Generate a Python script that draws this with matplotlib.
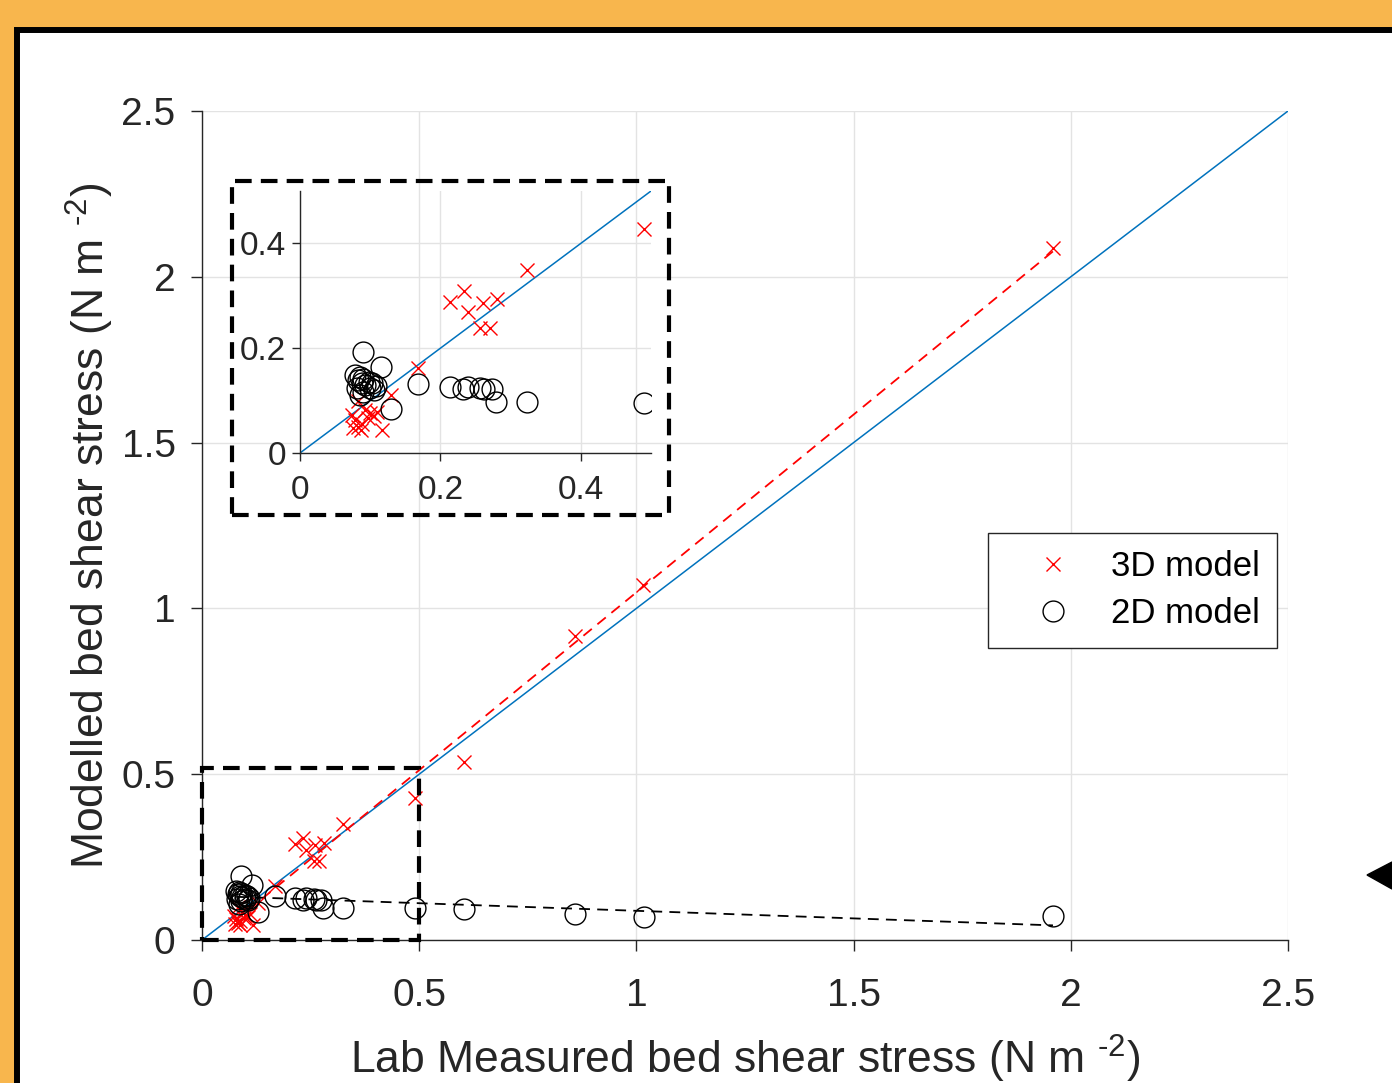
import numpy as np
import matplotlib.pyplot as plt
from matplotlib.patches import Rectangle, Polygon

plt.rcParams['font.family'] = ['Liberation Sans', 'DejaVu Sans']
plt.rcParams['mathtext.fontset'] = 'custom'
plt.rcParams['mathtext.rm'] = 'Liberation Sans'
plt.rcParams['mathtext.default'] = 'regular'

# datos (N m^-2)
lab_3d = [1.959, 1.015, 0.859, 0.603, 0.490, 0.324, 0.280, 0.270, 0.257, 0.260,
          0.239, 0.233, 0.214, 0.168, 0.130, 0.117, 0.083, 0.093, 0.100, 0.097,
          0.088, 0.079, 0.076, 0.083, 0.087, 0.074, 0.105, 0.110]
model_3d = [2.087, 1.071, 0.917, 0.537, 0.427, 0.349, 0.294, 0.238, 0.238, 0.286,
            0.270, 0.309, 0.289, 0.163, 0.111, 0.044, 0.100, 0.083, 0.076, 0.066,
            0.056, 0.063, 0.047, 0.050, 0.044, 0.072, 0.070, 0.078]

lab_2d = [1.959, 1.018, 0.859, 0.603, 0.490, 0.324, 0.279, 0.274, 0.262, 0.257,
          0.239, 0.232, 0.214, 0.168, 0.129, 0.115, 0.090, 0.079, 0.083, 0.088,
          0.093, 0.098, 0.103, 0.105, 0.081, 0.090, 0.100, 0.086, 0.090, 0.108,
          0.085]
model_2d = [0.072, 0.069, 0.078, 0.093, 0.095, 0.097, 0.098, 0.122, 0.122, 0.124,
            0.126, 0.122, 0.126, 0.132, 0.084, 0.165, 0.192, 0.149, 0.139, 0.133,
            0.130, 0.136, 0.133, 0.120, 0.124, 0.117, 0.124, 0.145, 0.142, 0.128,
            0.110]

ticks_main = [0, 0.5, 1, 1.5, 2, 2.5]
labels_main = ['0', '0.5', '1', '1.5', '2', '2.5']
ticks_inset = [0, 0.2, 0.4]
labels_inset = ['0', '0.2', '0.4']

# ajustes lineales
p3 = np.polyfit(lab_3d, model_3d, 1)
p2 = np.polyfit(lab_2d, model_2d, 1)
x3 = np.array([min(lab_3d), max(lab_3d)])
x2 = np.array([min(lab_2d), max(lab_2d)])

gris = '#262626'
grid_c = '#e3e3e3'
guion = (0, (4, 2.2))

fig = plt.figure(figsize=(13.92, 10.83), dpi=100, facecolor='#F8B64D')

# marco blanco con borde negro y flecha
fig.patches.append(Rectangle((17 / 1392, -0.05), 1.1, 1 - 30 / 1083 + 0.05,
                             transform=fig.transFigure, facecolor='white',
                             edgecolor='black', lw=4.3, zorder=-2))
fig.patches.append(Polygon([(1367 / 1392, 1 - 875 / 1083), (1.0, 1 - 862 / 1083),
                            (1.0, 1 - 889 / 1083)], closed=True,
                           transform=fig.transFigure, color='black', zorder=-1))


def estilo(ax, ticks, labels, size, pad_x, pad_y, largo):
    for s in ['top', 'right']:
        ax.spines[s].set_visible(False)
    for s in ['left', 'bottom']:
        ax.spines[s].set_color(gris)
        ax.spines[s].set_linewidth(1.0)
    ax.set_xticks(ticks)
    ax.set_xticklabels(labels)
    ax.set_yticks(ticks)
    ax.set_yticklabels(labels)
    ax.tick_params(axis='both', colors=gris, labelsize=size, length=largo, width=1.0)
    ax.tick_params(axis='x', pad=pad_x)
    ax.tick_params(axis='y', pad=pad_y)
    ax.grid(True, color=grid_c, lw=1.0)
    ax.set_axisbelow(True)


# grafico principal
ax = fig.add_axes([202 / 1392, 1 - 940 / 1083, 1086 / 1392, 829 / 1083])
ax.set_facecolor('none')
ax.plot([0, 2.5], [0, 2.5], color='#0072BD', lw=1.1, zorder=2)
ax.plot(x3, np.polyval(p3, x3), '--', color='red', lw=1.3, dashes=(6, 4), zorder=3)
ax.plot(x2, np.polyval(p2, x2), '--', color='black', lw=1.3, dashes=(6, 4), zorder=3)
ax.plot(lab_3d, model_3d, 'x', color='red', ms=10, mew=1.0, label='3D model', zorder=4)
ax.plot(lab_2d, model_2d, 'o', mfc='none', mec='black', ms=15, mew=1.0,
        label='2D model', zorder=4)
ax.set_xlim(0, 2.5)
ax.set_ylim(0, 2.5)
estilo(ax, ticks_main, labels_main, 28, 19, 11, 8)
ax.set_xlabel(r'Lab Measured bed shear stress (N m $^{\text{-}2}$)', fontsize=32,
              color=gris, labelpad=14)
ax.set_ylabel(r'Modelled bed shear stress (N m $^{\text{-}2}$)', fontsize=32,
              color=gris, labelpad=4)
ax.add_patch(Rectangle((0, 0), 0.5, 0.52, fill=False, edgecolor='black', lw=3,
                       linestyle=guion, clip_on=False, zorder=5))

leg = ax.legend(loc='upper right', bbox_to_anchor=(1277 / 1392, 1 - 533 / 1083),
                bbox_transform=fig.transFigure, fontsize=25, fancybox=False,
                edgecolor=gris, framealpha=1, handlelength=2.75, handletextpad=0.3,
                borderpad=0.5, labelspacing=0.4, borderaxespad=0)
leg.get_frame().set_linewidth(1.0)

# recuadro (zoom)
axi = fig.add_axes([300 / 1392, 1 - 453 / 1083, 351 / 1392, 262 / 1083])
axi.set_facecolor('none')
axi.plot([0, 0.5], [0, 0.5], color='#0072BD', lw=1.1, zorder=2)
axi.plot(lab_3d, model_3d, 'x', color='red', ms=10, mew=1.0, zorder=4)
axi.plot(lab_2d, model_2d, 'o', mfc='none', mec='black', ms=15, mew=1.0, zorder=4)
axi.set_xlim(0, 0.5)
axi.set_ylim(0, 0.5)
estilo(axi, ticks_inset, labels_inset, 24, 10, 4, 6)

fig.patches.append(Rectangle((232 / 1392, 1 - 515 / 1083), 437 / 1392, 334 / 1083,
                             transform=fig.transFigure, fill=False, edgecolor='black',
                             lw=3, linestyle=guion, zorder=6))

fig.savefig('out.png', dpi=100, facecolor=fig.get_facecolor())
